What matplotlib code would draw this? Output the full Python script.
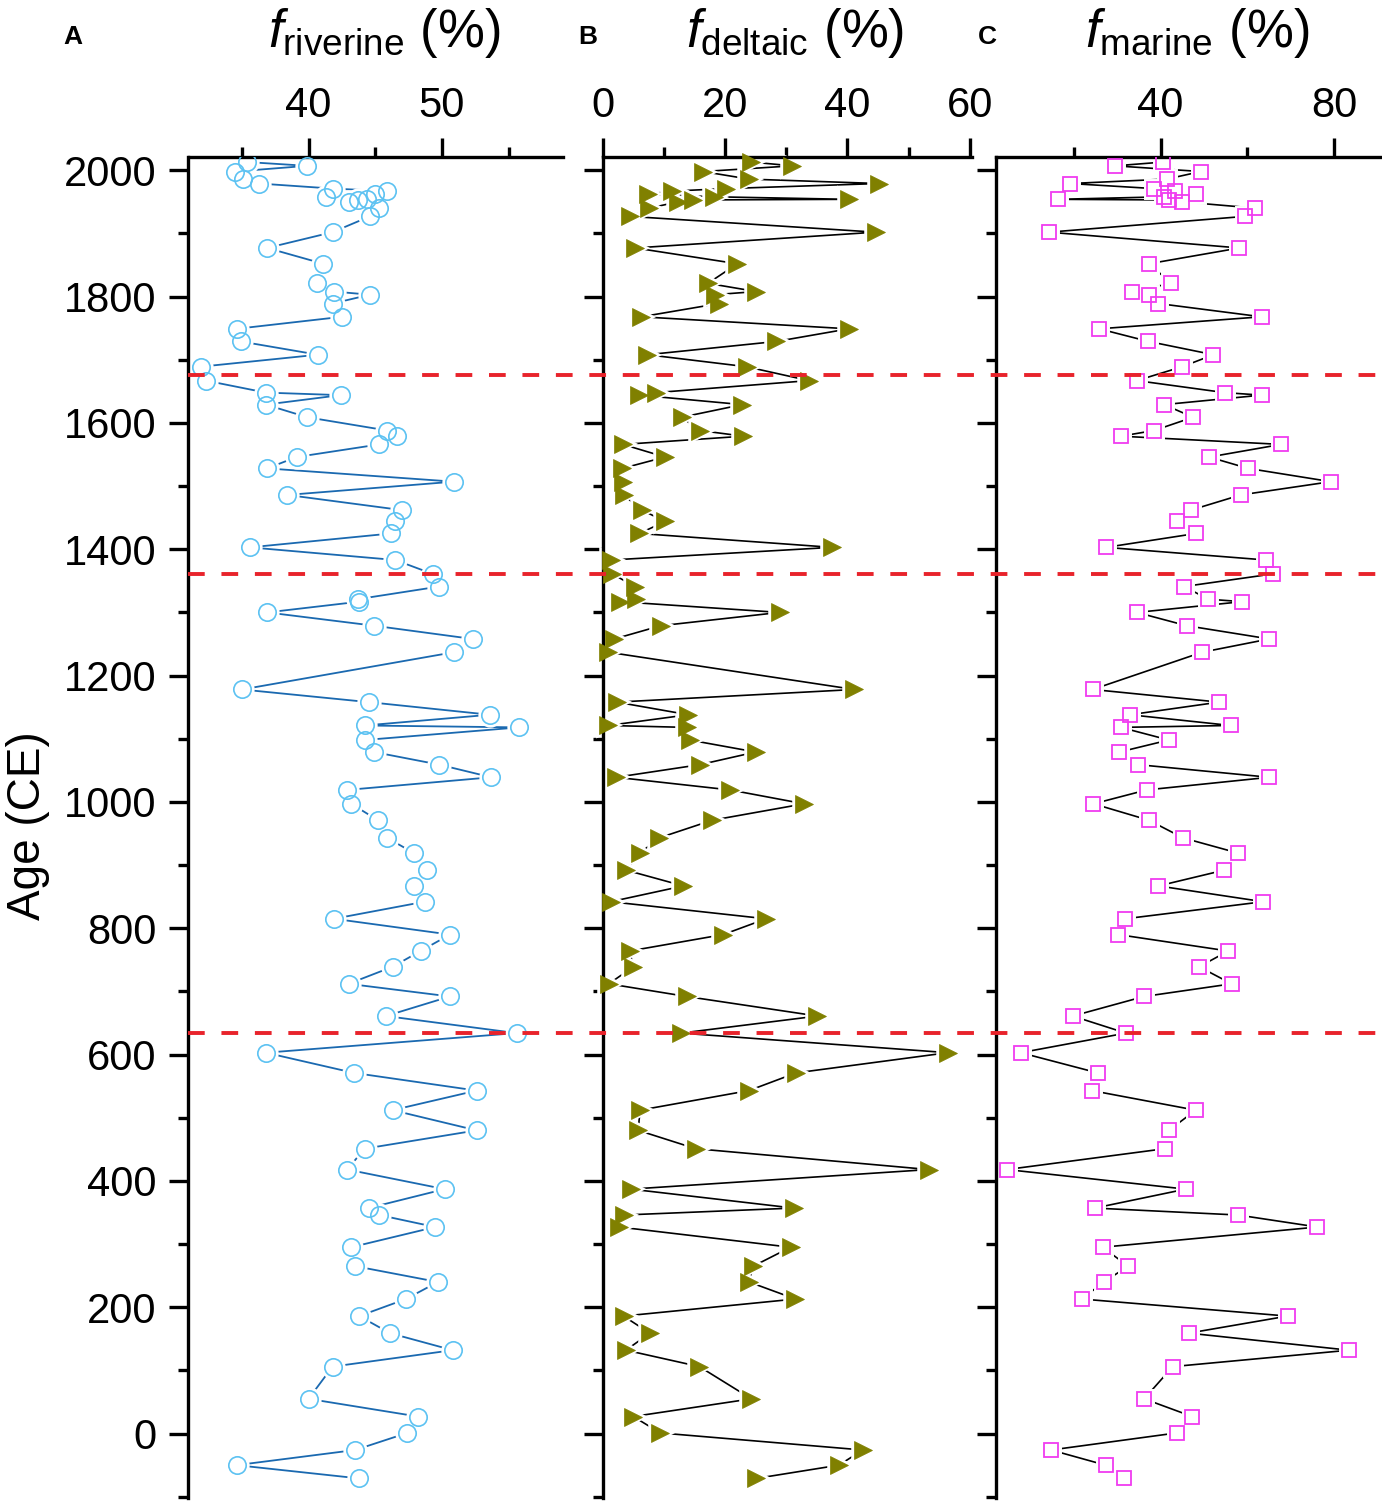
import matplotlib
matplotlib.use("Agg")
import matplotlib.pyplot as plt
import matplotlib.transforms as mtransforms
from matplotlib.lines import Line2D
from matplotlib.ticker import MultipleLocator

plt.rcParams['font.family'] = ['Liberation Sans', 'DejaVu Sans']
plt.rcParams['mathtext.fontset'] = 'custom'
plt.rcParams['mathtext.rm'] = 'Liberation Sans'
plt.rcParams['mathtext.it'] = 'Liberation Sans:italic'
plt.rcParams['mathtext.bf'] = 'Liberation Sans:bold'

# sample ages (CE), shared by the three panels
age = [2013, 2007, 1998, 1986, 1979, 1971, 1967, 1962, 1958, 1954, 1953, 1950, 1940, 1927,
       1902, 1877, 1852, 1821, 1808, 1803, 1789, 1768, 1749, 1729, 1708, 1689, 1667, 1648,
       1644, 1629, 1609, 1588, 1579, 1566, 1546, 1528, 1507,
       1486, 1462, 1444, 1425, 1403, 1383, 1361, 1341, 1321, 1317, 1300, 1279, 1258, 1237,
       1178, 1158, 1138, 1121, 1118, 1098, 1079, 1059, 1039, 1019, 997, 971,
       943, 919, 892, 867, 842, 815, 790, 764, 739, 712, 692, 661, 634, 603, 571, 543, 512,
       480, 451,
       418, 387, 357, 346, 327, 295, 265, 240, 213, 186, 159, 132, 106, 55, 27, 1, -26, -50, -71]

f_riverine = [35.4, 39.9, 34.5, 35.1, 36.3, 41.8, 45.9, 45.0, 41.3, 44.4, 43.7, 43.0, 45.3, 44.6,
              41.8, 36.9, 41.1, 40.6, 41.9, 44.6, 41.8, 42.5, 34.6, 34.9, 40.7, 31.9, 32.3, 36.8,
              42.4, 36.8, 39.9, 45.9, 46.6, 45.3, 39.1, 36.9, 50.9,
              38.4, 47.0, 46.5, 46.2, 35.6, 46.5, 49.3, 49.8, 43.7, 43.8, 36.9, 44.9, 52.3, 50.9,
              35.0, 44.5, 53.6, 44.2, 55.8, 44.2, 44.9, 49.8, 53.7, 42.9, 43.2, 45.2,
              45.9, 47.9, 48.9, 47.9, 48.7, 41.9, 50.6, 48.4, 46.3, 43.0, 50.6, 45.8, 55.6, 36.8,
              43.4, 52.6, 46.3, 52.6, 44.2,
              42.9, 50.2, 44.5, 45.3, 49.5, 43.2, 43.5, 49.7, 47.3, 43.8, 46.1, 50.8, 41.8, 40.0,
              48.2, 47.4, 43.5, 34.6, 43.8]

f_deltaic = [24.3, 31.0, 16.4, 23.9, 45.1, 20.2, 11.3, 7.4, 18.2, 40.2, 14.8, 12.3, 7.6, 4.4,
             44.6, 5.3, 22.0, 17.2, 25.1, 18.3, 19.0, 6.3, 40.2, 28.4, 7.3, 23.5, 33.7, 8.7,
             6.0, 22.8, 12.9, 15.9, 23.0, 3.3, 10.2, 3.2, 3.3,
             3.4, 6.4, 10.2, 6.0, 37.5, 1.3, 1.6, 5.2, 5.5, 2.8, 28.9, 9.5, 1.9, 0.9,
             41.1, 2.3, 14.0, 0.9, 13.7, 14.2, 25.0, 15.9, 2.2, 20.8, 32.9, 17.9,
             9.2, 6.1, 3.8, 13.2, 1.3, 26.7, 19.7, 4.4, 5.0, 1.0, 13.7, 35.1, 12.8, 56.4,
             31.6, 23.9, 6.1, 5.8, 15.2,
             53.3, 4.6, 31.2, 3.4, 2.7, 30.7, 24.6, 23.9, 31.5, 3.4, 7.7, 3.8, 15.8, 24.3,
             5.0, 9.4, 42.5, 38.6, 25.1]

f_marine = [40.6, 29.5, 49.3, 41.4, 19.1, 38.5, 43.3, 48.1, 40.8, 16.2, 42.0, 45.0, 61.9, 59.5,
            14.2, 58.2, 37.3, 42.5, 33.3, 37.4, 39.5, 63.3, 25.8, 37.2, 52.2, 45.0, 34.5, 54.8,
            63.3, 40.8, 47.5, 38.5, 30.8, 67.8, 51.2, 60.2, 79.3,
            58.5, 47.0, 43.7, 48.2, 27.4, 64.3, 66.0, 45.4, 51.0, 58.8, 34.5, 46.0, 65.1, 49.6,
            24.3, 53.5, 32.9, 56.2, 30.8, 41.9, 30.5, 34.8, 65.1, 36.8, 24.5, 37.3,
            45.2, 57.9, 54.7, 39.5, 63.7, 31.8, 30.2, 55.6, 48.9, 56.4, 36.2, 19.7, 32.0, 7.7,
            25.5, 24.1, 48.1, 41.9, 41.0,
            4.5, 45.8, 24.8, 57.9, 76.2, 26.6, 32.5, 26.9, 21.8, 69.3, 46.5, 83.5, 42.8, 36.2,
            47.3, 43.7, 14.7, 27.3, 31.5]

boundaries = [1676, 1361, 634]

W, H = 1382, 1501
fig = plt.figure(figsize=(W / 100, H / 100), dpi=100)

bottom = (H - 1498) / H
height = (1498 - 157) / H
axA = fig.add_axes([188.5 / W, bottom, (563.3 - 188.5) / W, height])
axB = fig.add_axes([602.7 / W, bottom, (971.7 - 602.7) / W, height])
axC = fig.add_axes([996 / W, bottom, (W - 996) / W, height])

panels = [
    (axA, f_riverine, (31.0, 59.1), 10, 5, 'riverine', 'A'),
    (axB, f_deltaic, (0, 60.3), 20, 10, 'deltaic', 'B'),
    (axC, f_marine, (2.0, 91.1), 40, 20, 'marine', 'C'),
]

for ax, vals, xl, maj, mnr, name, letter in panels:
    if letter == 'A':
        ax.plot(vals, age, '-', color='#1a69b0', lw=1.3, zorder=1)
        ax.plot(vals, age, 'o', ms=12.5, mfc='white', mec='white', mew=5, ls='none', zorder=2)
        ax.plot(vals, age, 'o', ms=12.5, mfc='none', mec='#5cc2f2', mew=1.2, ls='none', zorder=3)
    elif letter == 'B':
        ax.plot(vals, age, '-', color='black', lw=1.2, zorder=1)
        ax.plot(vals, age, '>', ms=13, mfc='white', mec='white', mew=4, ls='none',
                zorder=2, clip_on=False)
        ax.plot(vals, age, '>', ms=13, mfc='#808000', mec='#808000', mew=0.5, ls='none',
                zorder=3, clip_on=False)
    else:
        ax.plot(vals, age, '-', color='black', lw=1.2, zorder=1)
        ax.plot(vals, age, 's', ms=10, mfc='white', mec='white', mew=5, ls='none', zorder=2)
        ax.plot(vals, age, 's', ms=10, mfc='none', mec='#f03cf0', mew=1.3, ls='none', zorder=3)

    ax.set_xlim(*xl)
    ax.set_ylim(-102, 2021)
    ax.xaxis.set_major_locator(MultipleLocator(maj))
    ax.xaxis.set_minor_locator(MultipleLocator(mnr))
    ax.yaxis.set_major_locator(MultipleLocator(200))
    ax.yaxis.set_minor_locator(MultipleLocator(100))
    for s in ['right', 'bottom']:
        ax.spines[s].set_visible(False)
    for s in ['left', 'top']:
        ax.spines[s].set_linewidth(2.4)
    ax.xaxis.tick_top()
    ax.tick_params(axis='x', which='both', top=True, bottom=False, labeltop=True,
                   labelbottom=False, direction='out', width=2.4, labelsize=30, pad=8)
    ax.tick_params(axis='y', which='both', left=True, right=False, direction='out',
                   width=2.4, labelsize=30, pad=9, labelleft=(letter == 'A'))
    ax.tick_params(which='major', length=14)
    ax.tick_params(which='minor', length=7)

    pos = ax.get_position()
    cx = (pos.x0 + pos.x1) / 2
    fig.text(cx + 8 / W, 1 - 47 / H, r'$f_{\mathrm{' + name + r'}}$ (%)', fontsize=38,
             ha='center', va='baseline')

fig.text(73 / W, 1 - 37 / H, 'A', fontsize=19, fontweight='bold', ha='center', va='center')
fig.text(588 / W, 1 - 37 / H, 'B', fontsize=19, fontweight='bold', ha='center', va='center')
fig.text(987 / W, 1 - 37 / H, 'C', fontsize=19, fontweight='bold', ha='center', va='center')

fig.text(28 / W, 1 - 826 / H, 'Age (CE)', fontsize=33, rotation=90, ha='center', va='center')

# boundaries across all panels
trans = mtransforms.blended_transform_factory(fig.transFigure, axA.transData)
for yv in boundaries:
    fig.add_artist(Line2D([axA.get_position().x0, 1.0], [yv, yv], transform=trans,
                          color='#e8232b', lw=2.8, ls=(0, (4.3, 4.3)), zorder=10))

fig.savefig('out.png', dpi=100)
